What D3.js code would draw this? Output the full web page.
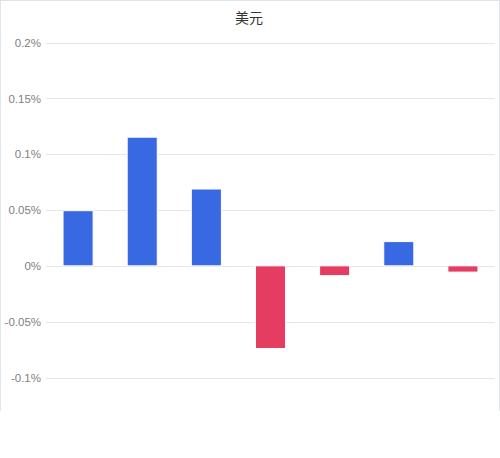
<!DOCTYPE html>
<html>
<head>
<meta charset="utf-8">
<script src="https://cdn.jsdelivr.net/npm/d3@7"></script>
<style>
    body { margin: 0; background: #fff; }
    #chart {
        position: absolute; left: 0; top: 0;
        width: 498px; height: 410px;
        border: 1px solid #dfe4e8; border-bottom: none;
    }
    svg { display: block; font-family: "Liberation Sans", Arial, sans-serif; }
</style>
</head>
<body>
<div id="chart"></div>
<script>
// Data
const categories = ['1', '2', '3', '4', '5', '6', '7'];
const values = [0.0494, 0.1152, 0.0688, -0.074, -0.0088, 0.0217, -0.0056];
const yTicks = [0.2, 0.15, 0.1, 0.05, 0, -0.05, -0.1];
const title = '美元';

const width = 498;
const height = 410;
const margin = { top: 42, right: 4, bottom: 33, left: 45 };
const innerWidth = width - margin.left - margin.right;

const svg = d3.select('#chart').append('svg')
    .attr('width', width)
    .attr('height', height);

// Title
svg.append('text')
    .attr('x', width / 2 - 1)
    .attr('y', 22)
    .attr('text-anchor', 'middle')
    .attr('font-size', 14)
    .attr('font-family', '"Noto Sans CJK SC", sans-serif')
    .attr('fill', '#333')
    .text(title);

const g = svg.append('g')
    .attr('transform', `translate(${margin.left},0)`);

// Scales
const x = d3.scaleBand()
    .domain(categories)
    .range([0, innerWidth])
    .paddingInner(0.53125)
    .paddingOuter(0.265625);

const y = d3.scaleLinear()
    .domain([-0.1, 0.2])
    .range([376.5, 41.5]);

// Y axis labels (plain hyphen for negatives, like the original)
g.append('g')
    .call(d3.axisLeft(y).tickValues(yTicks).tickSize(0).tickPadding(5)
        .tickFormat(d => `${+d.toFixed(2)}%`))
    .call(a => a.select('.domain').remove())
    .call(a => a.selectAll('text')
        .attr('fill', '#808080')
        .attr('font-size', 11.5));

// Gridlines
g.append('g')
    .selectAll('line')
    .data(yTicks)
    .join('line')
    .attr('x1', 0)
    .attr('x2', innerWidth)
    .attr('y1', d => Math.round(y(d)) + 0.5)
    .attr('y2', d => Math.round(y(d)) + 0.5)
    .attr('stroke', '#e6e6e6')
    .attr('stroke-width', 1);

// Bars
g.append('g')
    .selectAll('rect')
    .data(values)
    .join('rect')
    .attr('x', (d, i) => x(categories[i]))
    .attr('width', x.bandwidth())
    .attr('y', d => y(Math.max(0, d)))
    .attr('height', d => Math.abs(y(d) - y(0)))
    .attr('fill', d => d >= 0 ? '#3968e3' : '#e53c62')
    .attr('stroke', '#fff')
    .attr('stroke-width', 1);
</script>
</body>
</html>
